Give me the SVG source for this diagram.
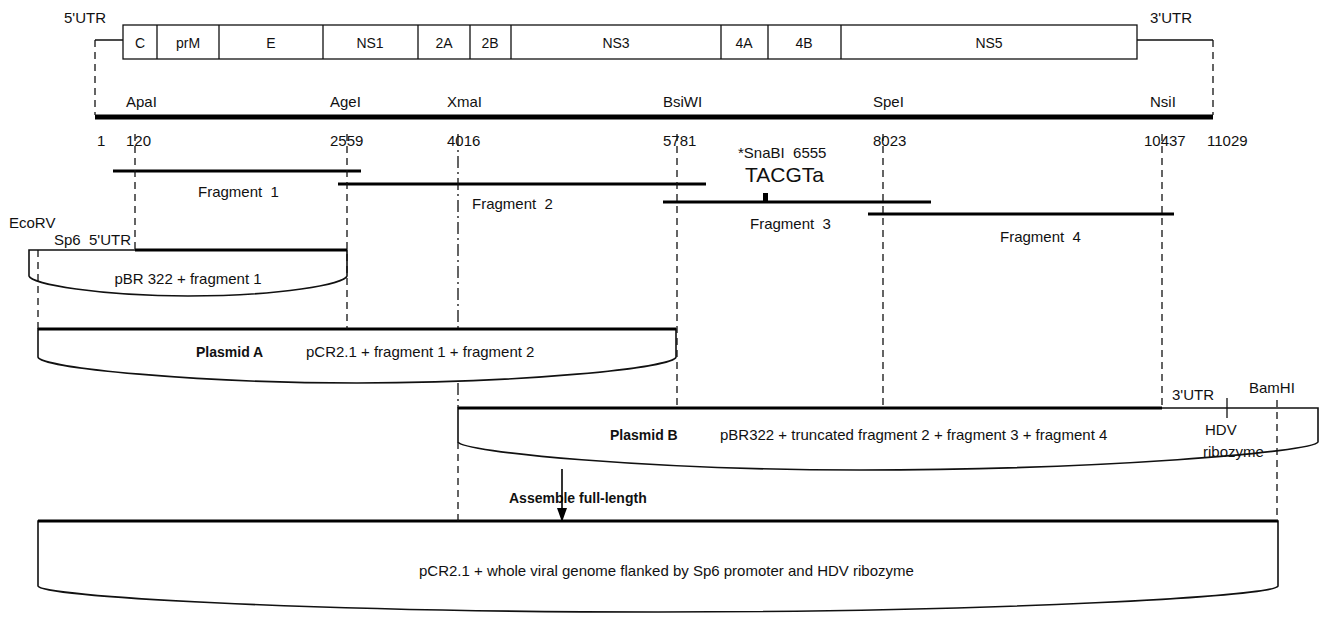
<svg xmlns="http://www.w3.org/2000/svg" width="1321" height="617" viewBox="0 0 1321 617">
<style>
text{font-family:"Liberation Sans",Arial,sans-serif;font-size:15px;fill:#111;white-space:pre}
.g{font-size:14px}
.b{font-weight:bold;font-size:14px}
.big{font-size:21px}
.thin{stroke:#111;stroke-width:1.3;fill:none}
.thick{stroke:#000;stroke-width:5;fill:none}
.frag{stroke:#000;stroke-width:3.2;fill:none}
.dash{stroke:#111;stroke-width:1.3;fill:none;stroke-dasharray:7 5}
.dd{stroke:#111;stroke-width:1.3;fill:none;stroke-dasharray:12 4 2 4}
.pl{stroke:#111;stroke-width:1.6;fill:#fff}
.m{text-anchor:middle}
</style>
<defs>
<marker id="ah" markerWidth="14" markerHeight="10" refX="14" refY="5" orient="auto" markerUnits="userSpaceOnUse" viewBox="0 0 14 10">
<path d="M0,0 L14,5 L0,10 Z" fill="#000"/>
</marker>
</defs>

<g id="genome">
<text x="64" y="23">5'UTR</text>
<text x="1150" y="23">3'UTR</text>
<path class="thin" d="M95,40 H123 M1137,40 H1213"/>
<rect x="123" y="25" width="1014" height="34" class="thin" fill="#fff"/>
<path class="thin" d="M157,25 V59 M219,25 V59 M323,25 V59 M418,25 V59 M470,25 V59 M511,25 V59 M721,25 V59 M768,25 V59 M841,25 V59"/>
<text class="m g" x="140" y="48">C</text>
<text class="m g" x="188" y="48">prM</text>
<text class="m g" x="271" y="48">E</text>
<text class="m g" x="370" y="48">NS1</text>
<text class="m g" x="444" y="48">2A</text>
<text class="m g" x="490" y="48">2B</text>
<text class="m g" x="616" y="48">NS3</text>
<text class="m g" x="744" y="48">4A</text>
<text class="m g" x="804" y="48">4B</text>
<text class="m g" x="989" y="48">NS5</text>
</g>

<g id="genome-line">
<line x1="95" y1="117" x2="1213" y2="117" class="thick"/>
<text x="126" y="107">ApaI</text>
<text x="330" y="107">AgeI</text>
<text x="447" y="107">XmaI</text>
<text x="663" y="107">BsiWI</text>
<text x="873" y="107">SpeI</text>
<text x="1150" y="107">NsiI</text>
<text x="97" y="146">1</text>
<text x="126" y="146">120</text>
<text x="330" y="146">2559</text>
<text x="447" y="146">4016</text>
<text x="663" y="146">5781</text>
<text x="873" y="146">8023</text>
<text x="1144" y="146">10437</text>
<text x="1207" y="146">11029</text>
</g>

<g id="fragment1">
<line x1="113" y1="171" x2="361" y2="171" class="frag"/>
<text x="198" y="197">Fragment  1</text>
</g>
<g id="fragment2">
<line x1="338" y1="184" x2="706" y2="184" class="frag"/>
<text x="472" y="209">Fragment  2</text>
</g>
<g id="fragment3">
<line x1="663" y1="202" x2="931" y2="202" class="frag"/>
<rect x="763" y="193" width="5" height="8" fill="#000"/>
<text x="738" y="158">*SnaBI  6555</text>
<text class="big" x="745" y="182">TACGTa</text>
<text x="750" y="229">Fragment  3</text>
</g>
<g id="fragment4">
<line x1="868" y1="214" x2="1174" y2="214" class="frag"/>
<text x="1000" y="242">Fragment  4</text>
</g>

<g id="pbr322-fragment1">
<path class="pl" d="M29,250 V276 C31,284 100,296 188,296 C280,296 345,284 347,276 V250 Z"/>
<line x1="135" y1="250" x2="347" y2="250" class="frag"/>
<text x="9" y="228">EcoRV</text>
<text x="54" y="245">Sp6  5'UTR</text>
<text class="m" x="188" y="284">pBR 322 + fragment 1</text>
</g>

<g id="plasmid-a">
<path class="pl" d="M38,329 V357 C40,368 200,383 357,383 C520,383 674,368 676,357 V329 Z"/>
<line x1="38" y1="329" x2="676" y2="329" class="frag"/>
<text class="b" x="196" y="357">Plasmid A</text>
<text x="306" y="357">pCR2.1 + fragment 1 + fragment 2</text>
</g>

<g id="plasmid-b">
<path class="pl" d="M458,408 V442 C462,452 650,470 860,470 C1100,470 1314,452 1318,442 V408 Z"/>
<line x1="458" y1="408" x2="1162" y2="408" class="frag"/>
<line x1="1227" y1="398" x2="1227" y2="418" class="thin"/>
<text x="1172" y="400">3'UTR</text>
<text x="1249" y="393">BamHI</text>
<text x="1205" y="435">HDV</text>
<text x="1203" y="457">ribozyme</text>
<text class="b" x="610" y="440">Plasmid B</text>
<text x="720" y="440">pBR322 + truncated fragment 2 + fragment 3 + fragment 4</text>
</g>

<g id="assemble">
<text class="b" x="509" y="503">Assemble full-length</text>
</g>

<g id="full-length">
<path class="pl" d="M38,521 V586 C40,596 300,612 658,612 C1000,612 1276,596 1278,586 V521 Z"/>
<line x1="38" y1="521" x2="1278" y2="521" class="frag"/>
<text x="419" y="576">pCR2.1 + whole viral genome flanked by Sp6 promoter and HDV ribozyme</text>
</g>

<g id="connectors">
<path class="dash" d="M95,40 V115 M1213,40 V115"/>
<path class="dash" d="M135,134 V250"/>
<path class="dash" d="M347,134 V329"/>
<path class="dd" d="M458,134 V329"/>
<path class="dd" d="M458,383 V408"/>
<path class="dash" d="M458,442 V521"/>
<path class="dash" d="M677,134 V408"/>
<path class="dash" d="M883,134 V408"/>
<path class="dash" d="M1162,134 V410"/>
<path class="dash" d="M38,250 V329"/>
<path class="dash" d="M1277,400 V521"/>
<line x1="562" y1="469" x2="562" y2="522" stroke="#000" stroke-width="1.6" marker-end="url(#ah)"/>
</g>
</svg>
